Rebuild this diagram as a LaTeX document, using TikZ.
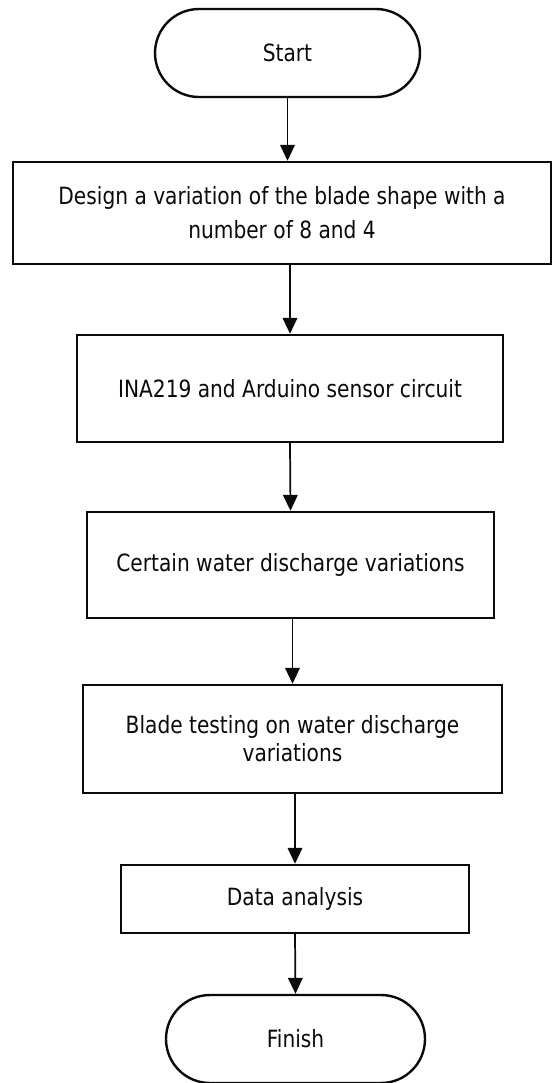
\documentclass[tikz,border=0pt]{standalone}
\usepackage{fontspec}
\setmainfont{DejaVu Sans}[FakeStretch=0.85]
\usetikzlibrary{shapes.misc,arrows.meta}
\definecolor{ink}{HTML}{0A0A0A}
\tikzset{
  procbox/.style={draw=ink,line width=1.8pt,rectangle,align=center,inner sep=0pt,text=ink,font=\fontsize{17.8}{21}\selectfont},
  termbox/.style={draw=ink,line width=1.8pt,rounded rectangle,inner sep=0pt,text=ink,font=\fontsize{17.8}{21}\selectfont},
  arr/.style={draw=ink,line width=1.3pt,-{Triangle[length=12pt,width=11pt]}}
}
\begin{document}
\begin{tikzpicture}[x=0.75pt,y=-0.75pt]
\useasboundingbox (0,0) rectangle (552,1083);
\node[termbox,minimum width=265*0.75pt,minimum height=88*0.75pt] (start) at (287.5,53) {Start};
\node[procbox,minimum width=538*0.75pt,minimum height=102*0.75pt,font=\fontsize{17.8}{25.5}\selectfont] (b1) at (282,213) {Design a variation of the blade shape with a\\number of 8 and 4};
\node[procbox,minimum width=426*0.75pt,minimum height=107*0.75pt] (b2) at (290,388.5) {INA219 and Arduino sensor circuit};
\node[procbox,minimum width=407*0.75pt,minimum height=106*0.75pt] (b3) at (290.5,565) {Certain water discharge variations};
\node[procbox,minimum width=419*0.75pt,minimum height=108*0.75pt] (b4) at (292.5,739) {Blade testing on water discharge\\variations};
\node[procbox,minimum width=348*0.75pt,minimum height=68*0.75pt] (b5) at (295,899) {Data analysis};
\node[termbox,minimum width=259*0.75pt,minimum height=88*0.75pt] (finish) at (295.5,1039) {Finish};
\draw[arr] (start.south) -- (start.south |- b1.north);
\draw[arr] (b1.south -| b2.north) -- (b2.north);
\draw[arr] (b2.south) -- (b3.north);
\draw[arr] (b3.south -| b4.north) -- (b4.north);
\draw[arr] (b4.south -| b5.north) -- (b5.north);
\draw[arr] (b5.south) -- (finish.north);
\end{tikzpicture}
\end{document}
